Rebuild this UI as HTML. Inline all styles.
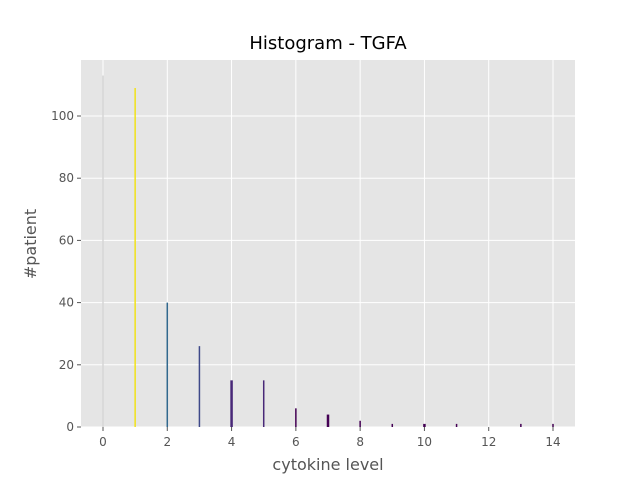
<!DOCTYPE html>
<html><head><meta charset="utf-8"><style>
body{margin:0;background:#fff;font-family:"DejaVu Sans","Liberation Sans",sans-serif}
</style></head><body>
<svg width="640" height="480" xmlns="http://www.w3.org/2000/svg" font-family="DejaVu Sans, Liberation Sans, sans-serif">
<rect width="640" height="480" fill="#fff"/>
<rect x="81" y="60" width="494" height="367" fill="#e5e5e5"/>
<g id="grid"></g>
<g id="bars"></g>
<g id="ticks" font-size="12" fill="#555"></g>
<text x="328" y="49" text-anchor="middle" font-size="18" fill="#000">Histogram - TGFA</text>
<text x="328" y="470" text-anchor="middle" font-size="16" fill="#555">cytokine level</text>
<text transform="translate(36,244) rotate(-90)" text-anchor="middle" font-size="16" fill="#555">#patient</text>
</svg>
<script>
const levels=[0,1,2,3,4,5,6,7,8,9,10,11,13,14];
const counts=[113,109,40,26,15,15,6,4,2,1,1,1,1,1];
const barWidths=[1.5,1.5,1.5,1.5,2.5,1.5,1.5,2.5,1.5,1.5,2.5,1.5,1.5,1.5];
const xTicks=[0,2,4,6,8,10,12,14];
const yTicks=[0,20,40,60,80,100];
const NS="http://www.w3.org/2000/svg";
const xs=v=>103+v*(553-103)/14;
const ys=v=>427-v*(427-116)/100;
const viridis=["#440154","#482878","#3e4989","#31688e","#26828e","#1f9e89","#35b779","#6ece58","#b5de2b","#f0e21a"];
const maxC=Math.max(...counts);
function col(c){const t=(c-1)/(maxC-1);return viridis[Math.min(9,Math.round(t*9))];}
const grid=document.getElementById('grid'),bars=document.getElementById('bars'),tk=document.getElementById('ticks');
xTicks.forEach(v=>{
 const l=document.createElementNS(NS,'line');
 
 
 l.setAttribute('x1',xs(v));l.setAttribute('x2',xs(v));l.setAttribute('y1',60);l.setAttribute('y2',427);l.setAttribute('stroke','#fff');l.setAttribute('stroke-width',1);grid.appendChild(l);
 const m=document.createElementNS(NS,'line');
 
 
 m.setAttribute('x1',xs(v));m.setAttribute('x2',xs(v));m.setAttribute('y1',427);m.setAttribute('y2',431);m.setAttribute('stroke','#555');tk.appendChild(m);
 const t=document.createElementNS(NS,'text');
 
 
 t.setAttribute('x',xs(v));t.setAttribute('y',446);t.setAttribute('text-anchor','middle');t.textContent=v;tk.appendChild(t);
});
yTicks.forEach(v=>{
 const l=document.createElementNS(NS,'line');
 
 
 l.setAttribute('x1',81);l.setAttribute('x2',575);l.setAttribute('y1',ys(v));l.setAttribute('y2',ys(v));l.setAttribute('stroke','#fff');grid.appendChild(l);
 const m=document.createElementNS(NS,'line');
 
 
 m.setAttribute('x1',77);m.setAttribute('x2',81);m.setAttribute('y1',ys(v));m.setAttribute('y2',ys(v));m.setAttribute('stroke','#555');tk.appendChild(m);
 const t=document.createElementNS(NS,'text');
 
 
 t.setAttribute('x',74);t.setAttribute('y',ys(v)+4);t.setAttribute('text-anchor','end');t.textContent=v;tk.appendChild(t);
});
levels.forEach((lv,i)=>{
 const r=document.createElementNS(NS,'rect');
 
 
 const w=barWidths[i];
 r.setAttribute('x',xs(lv)-w/2);r.setAttribute('width',w);
 r.setAttribute('y',ys(counts[i]));r.setAttribute('height',427-ys(counts[i]));
 r.setAttribute('fill',i===0?'#d6d6d6':col(counts[i]));
 bars.appendChild(r);
});
</script>
</body></html>
